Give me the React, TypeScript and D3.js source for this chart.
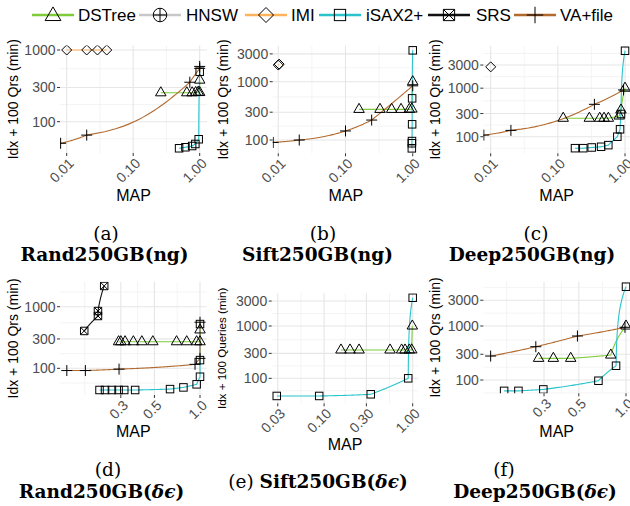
import React from 'react';
import * as d3 from 'd3';

type Pt = [number, number];

// ---------- series meta ----------
const seriesNames = ['DSTree', 'HNSW', 'IMI', 'iSAX2+', 'SRS', 'VA+file'];
const seriesColors = ['#7FCC3A', '#C8C8C8', '#FFB45C', '#29C4CC', '#111111', '#B36A2E'];
const seriesShapes = ['triangle', 'circlePlus', 'diamond', 'square', 'squareX', 'plus'];

// ---------- data: [MAP, Idx + 100 queries (min)] ----------
// (a) Rand250GB(ng)
const randNgDSTree: Pt[] = [[0.26, 253], [0.64, 253], [0.77, 253], [0.87, 255], [0.95, 258], [1.0, 255], [1.0, 380]];
const randNgIMI: Pt[] = [[0.01, 1000], [0.02, 1000], [0.029, 1000], [0.04, 1000]];
const randNgISAX: Pt[] = [[0.49, 42.6], [0.61, 44], [0.77, 45.8], [0.86, 48.9], [0.966, 56.9], [1.0, 497]];
const randNgVA: Pt[] = [[0.0081, 50], [0.02, 65], [0.71, 355], [1.0, 555], [1.0, 590]];
// (b) Sift250GB(ng)
const siftNgDSTree: Pt[] = [[0.159, 335], [0.326, 335], [0.486, 335], [0.67, 335], [0.89, 335], [0.97, 340], [1.0, 1000]];
const siftNgIMI: Pt[] = [[0.01, 1930], [0.0103, 2000]];
const siftNgISAX: Pt[] = [[0.97, 72], [0.97, 88], [0.975, 96], [0.98, 186], [0.98, 518], [1.0, 3450]];
const siftNgVA: Pt[] = [[0.0084, 91], [0.0205, 100], [0.1, 143], [0.245, 220], [1.0, 850]];
// (c) Deep250GB(ng)
const deepNgDSTree: Pt[] = [[0.12, 240], [0.294, 240], [0.42, 240], [0.487, 240], [0.565, 240], [0.82, 267], [0.87, 355], [1.0, 1000]];
const deepNgIMI: Pt[] = [[0.01, 2750]];
const deepNgISAX: Pt[] = [[0.18, 58], [0.239, 58], [0.319, 60], [0.44, 62], [0.564, 67], [0.768, 100], [0.843, 142], [0.87, 294], [1.0, 5900]];
const deepNgVA: Pt[] = [[0.0079, 108], [0.02, 135], [0.35, 465], [0.95, 920]];
// (d) Rand250GB(δϵ)
const randDeSRS: Pt[] = [[0.172, 404], [0.212, 707], [0.212, 850], [0.233, 2170]];
const randDeDSTree: Pt[] = [[0.29, 270], [0.30, 270], [0.32, 270], [0.363, 270], [0.413, 270], [0.488, 270], [0.70, 270], [0.817, 270], [0.95, 270], [1.0, 270], [1.0, 420]];
const randDeVA: Pt[] = [[0.132, 92], [0.175, 92], [0.292, 97], [0.927, 116], [1.0, 145], [1.0, 560]];
const randDeISAX: Pt[] = [[0.217, 44.5], [0.236, 44.5], [0.262, 44.5], [0.29, 44.5], [0.316, 44.5], [0.373, 44.5], [0.634, 46], [0.777, 49], [0.95, 55], [1.0, 73], [1.0, 136], [1.0, 523]];
// (e) Sift250GB(δϵ)
const siftDeDSTree: Pt[] = [[0.155, 348], [0.196, 348], [0.248, 348], [0.555, 348], [0.75, 348], [0.82, 348], [0.916, 348], [0.975, 350], [0.99, 1000]];
const siftDeISAX: Pt[] = [[0.0292, 46], [0.088, 46], [0.336, 49.5], [0.89, 100], [1.0, 3470]];
// (f) Deep250GB(δϵ)
const deepDeVA: Pt[] = [[0.137, 278], [0.266, 414], [0.49, 653], [0.985, 946]];
const deepDeDSTree: Pt[] = [[0.277, 252], [0.344, 252], [0.444, 252], [0.80, 290], [1.0, 1000]];
const deepDeISAX: Pt[] = [[0.167, 63], [0.206, 63], [0.297, 67], [0.667, 97], [0.864, 184], [1.0, 5340]];

// ---------- tick values ----------
const mapTicksWide = [0.01, 0.1, 1];
const mapLabelsWide = ['0.01', '0.10', '1.00'];
const mapTicksNarrow = [0.1, 0.3, 0.5, 1.0];
const mapLabelsNarrow = ['0.1', '0.3', '0.5', '1.0'];
const mapTicksSift = [0.03, 0.1, 0.3, 1.0];
const mapLabelsSift = ['0.03', '0.10', '0.30', '1.00'];
const timeTicks = [100, 300, 1000, 3000];
const timeLabels = ['100', '300', '1000', '3000'];

// ---------- panel layout ----------
interface PanelCfg {
  series: { name: string; pts: Pt[] }[];
  xDomain: [number, number];
  yDomain: [number, number];
  box: [number, number, number, number]; // left, right, top, bottom
  xTicks: number[];
  xLabels: string[];
  yTitle: string;
  yTitleX: number;
  yTitleSize: number;
  mapBaseline: number;
}

const panels: PanelCfg[] = [
  {
    series: [{ name: 'DSTree', pts: randNgDSTree }, { name: 'IMI', pts: randNgIMI }, { name: 'iSAX2+', pts: randNgISAX }, { name: 'VA+file', pts: randNgVA }],
    xDomain: [0.00793, 1.288], yDomain: [36.6, 1155], box: [60, 207, 45.5, 153],
    xTicks: mapTicksWide, xLabels: mapLabelsWide, yTitle: 'Idx + 100 Qrs (min)', yTitleX: 13, yTitleSize: 14, mapBaseline: 201,
  },
  {
    series: [{ name: 'DSTree', pts: siftNgDSTree }, { name: 'IMI', pts: siftNgIMI }, { name: 'iSAX2+', pts: siftNgISAX }, { name: 'VA+file', pts: siftNgVA }],
    xDomain: [0.00826, 1.24], yDomain: [59.2, 4144], box: [272.7, 419, 45.7, 153.3],
    xTicks: mapTicksWide, xLabels: mapLabelsWide, yTitle: 'Idx + 100 Qrs (min)', yTitleX: 223.3, yTitleSize: 14, mapBaseline: 201,
  },
  {
    series: [{ name: 'DSTree', pts: deepNgDSTree }, { name: 'IMI', pts: deepNgIMI }, { name: 'iSAX2+', pts: deepNgISAX }, { name: 'VA+file', pts: deepNgVA }],
    xDomain: [0.00776, 1.27], yDomain: [45.5, 7510], box: [483.3, 632, 45.7, 153.3],
    xTicks: mapTicksWide, xLabels: mapLabelsWide, yTitle: 'Idx + 100 Qrs (min)', yTitleX: 435, yTitleSize: 14, mapBaseline: 201,
  },
  {
    series: [{ name: 'DSTree', pts: randDeDSTree }, { name: 'iSAX2+', pts: randDeISAX }, { name: 'SRS', pts: randDeSRS }, { name: 'VA+file', pts: randDeVA }],
    xDomain: [0.119, 1.107], yDomain: [36.9, 2546], box: [60, 206.7, 281.7, 395],
    xTicks: mapTicksNarrow, xLabels: mapLabelsNarrow, yTitle: 'Idx + 100 Qrs (min)', yTitleX: 13.3, yTitleSize: 14, mapBaseline: 436.5,
  },
  {
    series: [{ name: 'DSTree', pts: siftDeDSTree }, { name: 'iSAX2+', pts: siftDeISAX }],
    xDomain: [0.0256, 1.157], yDomain: [33.3, 4220], box: [271.7, 418.3, 293.3, 403.3],
    xTicks: mapTicksSift, xLabels: mapLabelsSift, yTitle: 'Idx + 100 Queries (min)', yTitleX: 221.7, yTitleSize: 11.6, mapBaseline: 449.5,
  },
  {
    series: [{ name: 'DSTree', pts: deepDeDSTree }, { name: 'iSAX2+', pts: deepDeISAX }, { name: 'VA+file', pts: deepDeVA }],
    xDomain: [0.123, 1.092], yDomain: [56.8, 6610], box: [483.3, 632, 281.7, 393.3],
    xTicks: mapTicksNarrow, xLabels: mapLabelsNarrow, yTitle: 'Idx + 100 Qrs (min)', yTitleX: 435, yTitleSize: 14, mapBaseline: 436.7,
  },
];

// legend layout
const legendLineStart = [32, 139, 245, 319, 428, 514];
const legendTextStart = [78, 186, 291, 366, 476, 560];

const AXIS_FONT = "'Liberation Sans', Arial, Helvetica, sans-serif";
const CAP_FONT = "'DejaVu Serif', serif";

function Marker({ shape, x, y, k = 1 }: { shape: string; x: number; y: number; k?: number }) {
  const st = { fill: 'none', stroke: '#000', strokeWidth: 1 };
  if (shape === 'triangle') {
    const s = 10.5 * k, h = s * 0.866;
    return <path d={`M${x},${y - (2 * h) / 3}L${x - s / 2},${y + h / 3}L${x + s / 2},${y + h / 3}Z`} {...st} />;
  }
  if (shape === 'square') {
    const s = 7.5 * k;
    return <rect x={x - s / 2} y={y - s / 2} width={s} height={s} {...st} />;
  }
  if (shape === 'diamond') {
    const d = 5 * k;
    return <path d={`M${x},${y - d}L${x + d},${y}L${x},${y + d}L${x - d},${y}Z`} {...st} />;
  }
  if (shape === 'plus') {
    const a = 5.5 * k;
    return <path d={`M${x - a},${y}L${x + a},${y}M${x},${y - a}L${x},${y + a}`} {...st} />;
  }
  if (shape === 'squareX') {
    const s = 7.5 * k, h = s / 2;
    return <path d={`M${x - h},${y - h}H${x + h}V${y + h}H${x - h}ZM${x - h},${y - h}L${x + h},${y + h}M${x + h},${y - h}L${x - h},${y + h}`} {...st} />;
  }
  const r = 4.5 * k;
  return (
    <g>
      <circle cx={x} cy={y} r={r} {...st} />
      <path d={`M${x - r},${y}L${x + r},${y}M${x},${y - r}L${x},${y + r}`} {...st} />
    </g>
  );
}

function minorBreaks(breaks: number[]): number[] {
  const b = [...breaks];
  const ext = [b[0] * b[0] / b[1], ...b, b[b.length - 1] * b[b.length - 1] / b[b.length - 2]];
  const out: number[] = [];
  for (let i = 0; i < ext.length - 1; i++) out.push(Math.sqrt(ext[i] * ext[i + 1]));
  return out;
}

function Panel({ cfg, idx }: { cfg: PanelCfg; idx: number }) {
  const [left, right, top, bottom] = cfg.box;
  const sx = d3.scaleLog().domain(cfg.xDomain).range([left, right]);
  const sy = d3.scaleLog().domain(cfg.yDomain).range([bottom, top]);
  const inX = (v: number) => v >= cfg.xDomain[0] && v <= cfg.xDomain[1];
  const inY = (v: number) => v >= cfg.yDomain[0] && v <= cfg.yDomain[1];
  const xMinor = minorBreaks(cfg.xTicks).filter(inX);
  const yMinor = minorBreaks(timeTicks).filter(inY);
  const xMajor = cfg.xTicks.map((t, i) => ({ t, l: cfg.xLabels[i] })).filter((d) => inX(d.t));
  const yMajor = timeTicks.map((t, i) => ({ t, l: timeLabels[i] })).filter((d) => inY(d.t));
  const clipId = `clip-${idx}`;
  // segments straight in data space, then log-transformed (coord_trans look)
  const pathFor = (pts: Pt[]) => {
    const dense: [number, number][] = [];
    for (let i = 0; i < pts.length; i++) {
      if (i === 0) { dense.push([sx(pts[0][0]), sy(pts[0][1])]); continue; }
      const [x0, y0] = pts[i - 1];
      const [x1, y1] = pts[i];
      for (let k = 1; k <= 40; k++) {
        const t = k / 40;
        dense.push([sx(x0 + (x1 - x0) * t), sy(y0 + (y1 - y0) * t)]);
      }
    }
    return d3.line()(dense) || '';
  };
  const cx = (left + Math.min(right, 630)) / 2;
  return (
    <g>
      <defs>
        <clipPath id={clipId}>
          <rect x={left} y={top} width={right - left} height={bottom - top} />
        </clipPath>
      </defs>
      {xMinor.map((v, i) => (
        <line key={`xm${i}`} x1={sx(v)} x2={sx(v)} y1={top} y2={bottom} stroke="#EFEFEF" strokeWidth={0.7} />
      ))}
      {yMinor.map((v, i) => (
        <line key={`ym${i}`} x1={left} x2={right} y1={sy(v)} y2={sy(v)} stroke="#EFEFEF" strokeWidth={0.7} />
      ))}
      {xMajor.map((d, i) => (
        <line key={`xM${i}`} x1={sx(d.t)} x2={sx(d.t)} y1={top} y2={bottom} stroke="#E6E6E6" strokeWidth={1.1} />
      ))}
      {yMajor.map((d, i) => (
        <line key={`yM${i}`} x1={left} x2={right} y1={sy(d.t)} y2={sy(d.t)} stroke="#E6E6E6" strokeWidth={1.1} />
      ))}
      <g clipPath={`url(#${clipId})`}>
        {cfg.series.map((s) => {
          const si = seriesNames.indexOf(s.name);
          return <path key={`l${s.name}`} d={pathFor(s.pts)} fill="none" stroke={seriesColors[si]} strokeWidth={1.1} />;
        })}
        {cfg.series.map((s) => {
          const si = seriesNames.indexOf(s.name);
          return (
            <g key={`p${s.name}`}>
              {s.pts.map((p, j) => (
                <Marker key={j} shape={seriesShapes[si]} x={sx(p[0])} y={sy(p[1])} />
              ))}
            </g>
          );
        })}
      </g>
      {yMajor.map((d, i) => (
        <g key={`yt${i}`}>
          <line x1={left - 3} x2={left} y1={sy(d.t)} y2={sy(d.t)} stroke="#333" strokeWidth={1} />
          <text x={left - 4.5} y={sy(d.t)} textAnchor="end" dominantBaseline="central" fontFamily={AXIS_FONT} fontSize={14} fill="#4D4D4D">
            {d.l}
          </text>
        </g>
      ))}
      {xMajor.map((d, i) => {
        const ax = sx(d.t) + 1;
        const ay = bottom + 4;
        return (
          <g key={`xt${i}`}>
            <line x1={sx(d.t)} x2={sx(d.t)} y1={bottom} y2={bottom + 3} stroke="#333" strokeWidth={1} />
            <text x={ax} y={ay} transform={`rotate(-45 ${ax} ${ay})`} dy="0.72em" textAnchor="end" fontFamily={AXIS_FONT} fontSize={14} fill="#4D4D4D">
              {d.l}
            </text>
          </g>
        );
      })}
      <text x={cx} y={cfg.mapBaseline} textAnchor="middle" fontFamily={AXIS_FONT} fontSize={16} fill="#000">
        MAP
      </text>
      <text
        x={cfg.yTitleX}
        y={(top + bottom) / 2}
        transform={`rotate(-90 ${cfg.yTitleX} ${(top + bottom) / 2})`}
        textAnchor="middle"
        dominantBaseline="central"
        fontFamily={AXIS_FONT}
        fontSize={cfg.yTitleSize}
        fill="#000"
      >
        {cfg.yTitle}
      </text>
    </g>
  );
}

function Legend() {
  const y = 15;
  return (
    <g>
      {seriesNames.map((n, i) => {
        const x0 = legendLineStart[i];
        const x1 = x0 + 42;
        const mx = (x0 + x1) / 2;
        return (
          <g key={n}>
            <line x1={x0} x2={x1} y1={y} y2={y} stroke={seriesColors[i]} strokeWidth={2.5} />
            <Marker shape={seriesShapes[i]} x={mx} y={seriesShapes[i] === 'triangle' ? y + 1 : y} k={1.5} />
            <text x={legendTextStart[i]} y={y} dominantBaseline="central" fontFamily={AXIS_FONT} fontSize={17} fill="#000">
              {n}
            </text>
          </g>
        );
      })}
    </g>
  );
}

function Captions() {
  const reg = { fontFamily: CAP_FONT, fontSize: 18.5, fill: '#000', textAnchor: 'middle' as const };
  const bold = { ...reg, fontWeight: 700 };
  return (
    <g>
      <text x={106} y={240} {...reg}>(a)</text>
      <text x={104.5} y={261} {...bold}>Rand250GB(ng)</text>
      <text x={323} y={240} {...reg}>(b)</text>
      <text x={317.5} y={261} {...bold}>Sift250GB(ng)</text>
      <text x={536} y={240} {...reg}>(c)</text>
      <text x={532} y={261} {...bold}>Deep250GB(ng)</text>

      <text x={108} y={476} {...reg}>(d)</text>
      <text x={101.5} y={498} {...bold}>Rand250GB(<tspan fontStyle="italic">δϵ</tspan>)</text>
      <text x={318} y={488} {...reg}>
        (e) <tspan fontWeight={700}>Sift250GB(<tspan fontStyle="italic">δϵ</tspan>)</tspan>
      </text>
      <text x={504} y={476} {...reg}>(f)</text>
      <text x={535} y={498} {...bold}>Deep250GB(<tspan fontStyle="italic">δϵ</tspan>)</text>
    </g>
  );
}

export default function App() {
  return (
    <svg width={630} height={506} style={{ position: 'absolute', left: 0, top: 0, background: '#fff' }} xmlns="http://www.w3.org/2000/svg">
      <rect x={0} y={0} width={630} height={506} fill="#fff" />
      <Legend />
      {panels.map((p, i) => (
        <Panel key={i} cfg={p} idx={i} />
      ))}
      <Captions />
    </svg>
  );
}
